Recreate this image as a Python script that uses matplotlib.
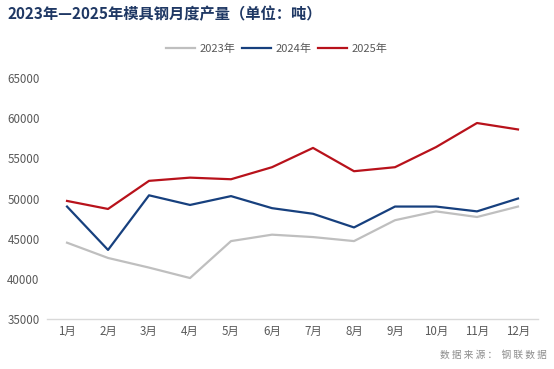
import matplotlib.pyplot as plt

plt.rcParams['font.family'] = ['Noto Sans CJK SC', 'DejaVu Sans']

months = ["1月", "2月", "3月", "4月", "5月", "6月", "7月", "8月", "9月", "10月", "11月", "12月"]
y2023 = [44500, 42600, 41400, 40100, 44700, 45500, 45200, 44700, 47300, 48400, 47700, 49000]
y2024 = [49000, 43600, 50400, 49200, 50300, 48800, 48100, 46400, 49000, 49000, 48400, 50000]
y2025 = [49700, 48700, 52200, 52600, 52400, 53900, 56300, 53400, 53900, 56400, 59400, 58600]
yticks = [35000, 40000, 45000, 50000, 55000, 60000, 65000]

fig = plt.figure(figsize=(5.54, 3.69), dpi=100)
ax = fig.add_axes([0.084, 0.1355, 0.888, 0.653])

x = list(range(len(months)))
ax.plot(x, y2023, color="#BFBFBF", lw=1.6, label="2023年")
ax.plot(x, y2024, color="#17407E", lw=1.6, label="2024年")
ax.plot(x, y2025, color="#B8121B", lw=1.6, label="2025年")

ax.set_xlim(-0.5, 11.5)
ax.set_ylim(35000, 65000)
ax.set_xticks(x)
ax.set_xticklabels(months)
ax.set_yticks(yticks)
ax.set_yticklabels([str(v) for v in yticks])
ax.tick_params(axis="both", length=0, labelsize=8.3, colors="#595959")
ax.tick_params(axis="y", pad=5)
ax.tick_params(axis="x", pad=4)
for s in ["left", "right", "top"]:
    ax.spines[s].set_visible(False)
ax.spines["bottom"].set_color("#D9D9D9")
ax.spines["bottom"].set_linewidth(1)

leg = fig.legend(loc="center", bbox_to_anchor=(0.5, 0.868), ncol=3, frameon=False,
                 fontsize=8, handlelength=2.6, columnspacing=0.6, handletextpad=0.4)
for t in leg.get_texts():
    t.set_color("#595959")

fig.text(0.014, 0.962, "2023年—2025年模具钢月度产量（单位：吨）", fontsize=11,
         fontweight="bold", color="#1F3864", va="center", ha="left")
fig.text(0.988, 0.038, "数 据 来 源 ：  钢 联 数 据", fontsize=7, color="#8C8C8C",
         ha="right", va="center")

fig.savefig("out.png", dpi=100)
